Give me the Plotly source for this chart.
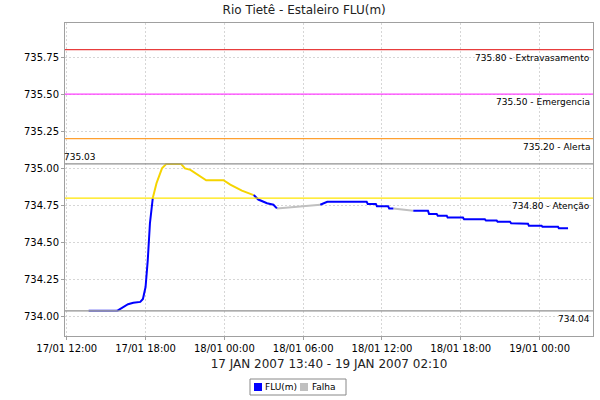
import plotly.graph_objects as go

# ---- data ----
d17 = "2007-01-17 "
d18 = "2007-01-18 "
d19 = "2007-01-19 "

start_times = [d17 + "13:40", d17 + "15:50"]
start_vals = [734.04, 734.04]

rise_times = [d17 + "15:50", d17 + "16:40", d17 + "17:04", d17 + "17:36", d17 + "17:48",
              d17 + "18:00", d17 + "18:10", d17 + "18:20", d17 + "18:33"]
rise_vals = [734.04, 734.084, 734.094, 734.10, 734.12, 734.20, 734.38, 734.63, 734.80]

high_times = [d17 + "18:33", d17 + "18:50", d17 + "19:15", d17 + "19:35", d17 + "20:42",
              d17 + "21:00", d17 + "21:25", d17 + "21:47", d17 + "22:37", d17 + "23:56",
              d18 + "00:27", d18 + "01:20", d18 + "02:14"]
high_vals = [734.80, 734.90, 735.00, 735.03, 735.03, 735.00, 734.99, 734.97, 734.92,
             734.92, 734.89, 734.85, 734.82]

fall_times = [d18 + "02:14", d18 + "02:35", d18 + "03:15", d18 + "03:44", d18 + "04:00"]
fall_vals = [734.82, 734.79, 734.765, 734.755, 734.73]

falha1_times = [d18 + "04:00", d18 + "07:18"]
falha1_vals = [734.73, 734.755]

late_times = [d18 + "07:18", d18 + "07:50", d18 + "10:50", d18 + "10:55", d18 + "11:32",
              d18 + "11:37", d18 + "12:28", d18 + "12:33", d18 + "12:52"]
late_vals = [734.755, 734.775, 734.775, 734.76, 734.76, 734.745, 734.745, 734.73, 734.73]

falha2_times = [d18 + "12:52", d18 + "14:23"]
falha2_vals = [734.73, 734.715]

end_times = [d18 + "14:23", d18 + "15:30", d18 + "15:35", d18 + "16:10", d18 + "16:15",
             d18 + "16:56", d18 + "17:00", d18 + "18:10", d18 + "18:15", d18 + "19:50",
             d18 + "19:55", d18 + "20:44", d18 + "20:48", d18 + "21:45", d18 + "21:50",
             d18 + "22:21", d18 + "22:25", d18 + "23:07", d18 + "23:11", d19 + "00:09",
             d19 + "00:13", d19 + "01:24", d19 + "01:28", d19 + "02:10"]
end_vals = [734.715, 734.715, 734.693, 734.693, 734.68, 734.68, 734.668, 734.668, 734.657,
            734.657, 734.648, 734.648, 734.641, 734.641, 734.63, 734.63, 734.626, 734.626,
            734.614, 734.614, 734.607, 734.607, 734.596, 734.596]

threshold_vals = [735.80, 735.50, 735.20, 734.80]
threshold_names = ["Extravasamento", "Emergencia", "Alerta", "Atenção"]
threshold_colors = ["#e83c3c", "#ff40ff", "#ffa030", "#ffe600"]
max_val = 735.03
min_val = 734.04

y_ticks = [734.00, 734.25, 734.50, 734.75, 735.00, 735.25, 735.50, 735.75]

legend_names = ["FLU(m)", "Falha"]

BLUE = "#0000ff"
GREY = "#c0c0c0"
YEL = "#f5d400"
FONT = "DejaVu Sans"

# plot-area geometry (pixels) used for the hand-drawn legend
W, H = 600, 400
ML, MR, MT, MB = 65, 7, 23, 64
PW, PH = W - ML - MR, H - MT - MB


def px(x):
    return (x - ML) / PW


def py(y):
    return (H - MB - y) / PH


fig = go.Figure()


def seg(t, v, color, name, width=2):
    fig.add_trace(go.Scatter(x=t, y=v, mode="lines", line=dict(color=color, width=width),
                             name=name, showlegend=False, hoverinfo="x+y"))


seg(falha1_times, falha1_vals, GREY, "Falha")
seg(falha2_times, falha2_vals, GREY, "Falha")
seg(start_times, start_vals, "#7f7ff5", "FLU(m)", width=2.5)
seg(rise_times, rise_vals, BLUE, "FLU(m)")
seg(high_times, high_vals, YEL, "FLU(m)")
seg(fall_times, fall_vals, BLUE, "FLU(m)")
seg(late_times, late_vals, BLUE, "FLU(m)")
seg(end_times, end_vals, BLUE, "FLU(m)")

shapes = []
annotations = []
for v, n, c in zip(threshold_vals, threshold_names, threshold_colors):
    shapes.append(dict(type="line", xref="paper", x0=0, x1=1, yref="y", y0=v, y1=v,
                       line=dict(color=c, width=1.3)))
    annotations.append(dict(xref="paper", x=1, xanchor="right", yref="y", y=v,
                            yanchor="top", yshift=-1, xshift=-1, showarrow=False,
                            text=f"{v:.2f} - {n}", font=dict(family=FONT, size=9, color="#000")))
for v in (max_val, min_val):
    shapes.append(dict(type="line", xref="paper", x0=0, x1=1, yref="y", y0=v, y1=v,
                       line=dict(color="#909090", width=1.3)))
annotations.append(dict(xref="paper", x=0, xanchor="left", yref="y", y=max_val,
                        yanchor="bottom", yshift=0, xshift=-3, showarrow=False,
                        text=f"{max_val:.2f}", font=dict(family=FONT, size=9, color="#000")))
annotations.append(dict(xref="paper", x=1, xanchor="right", yref="y", y=min_val,
                        yanchor="top", yshift=-1, xshift=-1, showarrow=False,
                        text=f"{min_val:.2f}", font=dict(family=FONT, size=9, color="#000")))

# hand-drawn compact legend (box, swatches, labels)
shapes.append(dict(type="rect", xref="paper", yref="paper",
                   x0=px(250), x1=px(346), y0=py(395), y1=py(379),
                   line=dict(color="#888888", width=1), fillcolor="white"))
for sx, col, tx, name in [(254, BLUE, 263, legend_names[0]), (300, GREY, 310, legend_names[1])]:
    shapes.append(dict(type="rect", xref="paper", yref="paper",
                       x0=px(sx), x1=px(sx + 8), y0=py(391), y1=py(383),
                       line=dict(width=0), fillcolor=col))
    annotations.append(dict(xref="paper", yref="paper", x=px(tx), y=py(387),
                            xanchor="left", yanchor="middle", showarrow=False,
                            text=name, font=dict(family=FONT, size=9, color="#000")))

fig.update_layout(
    width=W, height=H,
    margin=dict(l=ML, r=MR, t=MT, b=MB),
    paper_bgcolor="white", plot_bgcolor="white",
    font=dict(family=FONT, size=10, color="#000"),
    title=dict(text="Rio Tietê - Estaleiro FLU(m)", xref="container", x=0.507,
               xanchor="center", yref="container", y=0.985, yanchor="top",
               font=dict(family=FONT, size=12, color="#222")),
    shapes=shapes, annotations=annotations,
    showlegend=False,
)

fig.update_xaxes(
    type="date",
    range=[d17 + "11:52", d19 + "04:04"],
    tick0=d17 + "00:00", dtick=6 * 3600 * 1000,
    tickformat="%d/%m %H:%M",
    showgrid=True, gridcolor="#d6d6d6", griddash="2px,2px", gridwidth=1,
    showline=True, linecolor="#a0a0a0", linewidth=1, mirror=True,
    ticks="outside", ticklen=3, tickcolor="#a0a0a0",
    tickfont=dict(family=FONT, size=10, color="#000"),
    title=dict(text="17 JAN 2007 13:40 - 19 JAN 2007 02:10", standoff=6,
               font=dict(family=FONT, size=12, color="#222")),
    zeroline=False,
)
fig.update_yaxes(
    range=[733.87, 735.98],
    tickvals=y_ticks, ticktext=[f"{v:.2f}" for v in y_ticks],
    showgrid=True, gridcolor="#d6d6d6", griddash="2px,2px", gridwidth=1,
    showline=True, linecolor="#a0a0a0", linewidth=1, mirror=True,
    ticks="outside", ticklen=3, tickcolor="#a0a0a0",
    tickfont=dict(family=FONT, size=10, color="#000"),
    zeroline=False,
)

fig.write_html("out.html",
               config={"displayModeBar": False},
               post_script="document.body.style.margin='0';"
                           "document.documentElement.style.overflow='hidden';")
